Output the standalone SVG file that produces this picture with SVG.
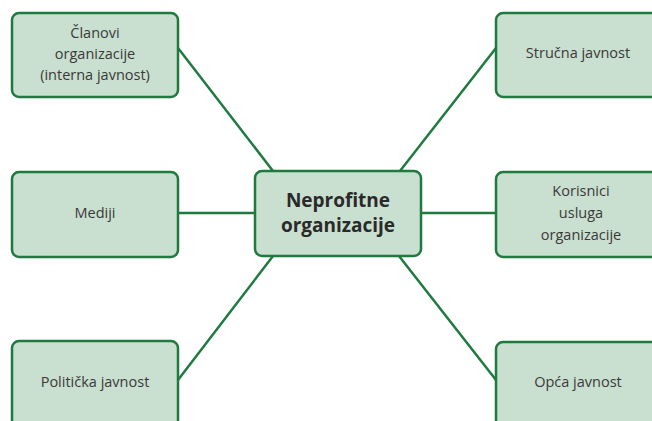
<svg xmlns="http://www.w3.org/2000/svg" width="652" height="421" viewBox="0 0 652 421">
<style>
.box{fill:#c9dfcf;stroke:#1f7a3f;stroke-width:2.5}
.lbl{font-family:"Open Sans","Liberation Sans",sans-serif;font-size:14.5px;fill:#3a3a3a;text-anchor:middle}
.ctr{font-family:"Open Sans","Liberation Sans",sans-serif;font-size:19px;font-weight:bold;fill:#2a2a2a;text-anchor:middle}
.edge{stroke:#1f7a3f;stroke-width:2.5;fill:none}
</style>
<rect width="652" height="421" fill="#ffffff"/>
<g id="connectors">
<line class="edge" x1="178" y1="48" x2="273" y2="171"/>
<line class="edge" x1="496" y1="48" x2="400" y2="171"/>
<line class="edge" x1="178" y1="213" x2="255" y2="213"/>
<line class="edge" x1="421" y1="213" x2="496" y2="213"/>
<line class="edge" x1="273" y1="256" x2="178" y2="380"/>
<line class="edge" x1="399" y1="256" x2="496" y2="380"/>
</g>
<g id="center">
<rect class="box" x="255" y="171" width="166" height="85" rx="7"/>
<text class="ctr" x="338" y="207">Neprofitne</text>
<text class="ctr" x="338" y="232">organizacije</text>
</g>
<g id="clanovi">
<rect class="box" x="12" y="13" width="166" height="84" rx="7"/>
<text class="lbl" x="95" y="38">Članovi</text>
<text class="lbl" x="95" y="59">organizacije</text>
<text class="lbl" x="95" y="80">(interna javnost)</text>
</g>
<g id="mediji">
<rect class="box" x="12" y="172" width="166" height="85" rx="7"/>
<text class="lbl" x="95" y="218">Mediji</text>
</g>
<g id="politicka">
<rect class="box" x="12" y="341" width="166" height="100" rx="7"/>
<text class="lbl" x="95" y="387">Politička javnost</text>
</g>
<g id="strucna">
<rect class="box" x="496" y="13" width="166" height="84" rx="7"/>
<text class="lbl" x="578" y="58">Stručna javnost</text>
</g>
<g id="korisnici">
<rect class="box" x="496" y="172" width="166" height="85" rx="7"/>
<text class="lbl" x="581" y="196">Korisnici</text>
<text class="lbl" x="581" y="218">usluga</text>
<text class="lbl" x="581" y="240">organizacije</text>
</g>
<g id="opca">
<rect class="box" x="496" y="342" width="166" height="100" rx="7"/>
<text class="lbl" x="578" y="387">Opća javnost</text>
</g>
</svg>
